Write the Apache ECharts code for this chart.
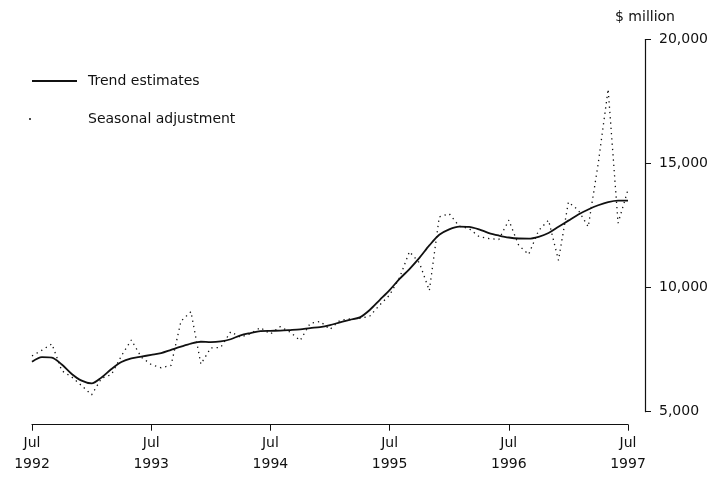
<!DOCTYPE html>
<html>
<head>
<meta charset="utf-8">
<script src="https://cdn.jsdelivr.net/npm/echarts@6/dist/echarts.min.js"></script>
<style>
  html, body { margin: 0; padding: 0; background: #fff; }
  #mychart { width: 717px; height: 477px; }
</style>
</head>
<body>
<div id="mychart"></div>
<script>
// monthly, Jul 1992 .. Jul 1997
const monthNames = ['Jul', 'Aug', 'Sep', 'Oct', 'Nov', 'Dec', 'Jan', 'Feb', 'Mar', 'Apr', 'May', 'Jun'];
const startYear = 1992;
const categories = [];
for (let i = 0; i <= 60; i++) {
    const y = startYear + Math.floor((i + 6) / 12);
    categories.push(monthNames[i % 12] + ' ' + y);
}

const trend = [
    7010, 7200, 7180, 6900, 6520, 6250, 6140, 6380, 6720, 7000,
    7150, 7220, 7290, 7360, 7490, 7620, 7740, 7820, 7800, 7830,
    7920, 8080, 8170, 8245, 8260, 8265, 8290, 8320, 8370, 8410,
    8490, 8600, 8700, 8800, 9100, 9500, 9900, 10350, 10750, 11200,
    11700, 12130, 12350, 12460, 12450, 12350, 12200, 12100, 12020, 11980,
    11975, 12050, 12200, 12450, 12700, 12950, 13150, 13320, 13450, 13510,
    13510
];

const seasonal = [
    7250, 7480, 7730, 6650, 6400, 6050, 5680, 6345, 6500, 7250,
    7890, 7200, 6900, 6770, 6870, 8650, 9030, 6920, 7570, 7590,
    8220, 8000, 8150, 8390, 8130, 8430, 8200, 7870, 8560, 8640,
    8320, 8680, 8740, 8760, 8850, 9300, 9700, 10400, 11450, 11000,
    9880, 12850, 12980, 12480, 12380, 12060, 11980, 11940, 12720, 11700,
    11340, 12300, 12720, 11100, 13450, 13120, 12450, 15000, 18000, 12600,
    13950
];

const yTicks = [5000, 10000, 15000, 20000];

const font = 'DejaVu Sans';
const ink = '#111';

let myChart = echarts.init(document.getElementById('mychart'));

myChart.setOption({
    animation: false,
    backgroundColor: '#fff',
    textStyle: { fontFamily: font, color: ink },
    grid: { left: 32, right: 89, top: 39.5, bottom: 65.3 },
    legend: [
        {
            data: [{ name: 'Trend estimates', icon: 'path://M0,0H45V2H0Z' }],
            left: 27, top: 69,
            itemWidth: 45, itemHeight: 2,
            itemStyle: { color: ink },
            textStyle: { fontFamily: font, fontSize: 14, color: ink, padding: [0, 0, 0, 6] }
        },
        {
            data: [{ name: 'Seasonal adjustment', icon: 'circle' }],
            left: 24, top: 107,
            itemWidth: 2, itemHeight: 2,
            itemStyle: { color: ink },
            textStyle: { fontFamily: font, fontSize: 14, color: ink, padding: [0, 0, 0, 52] }
        }
    ],
    xAxis: {
        type: 'category',
        data: categories,
        boundaryGap: false,
        offset: 13,
        axisLine: { lineStyle: { color: ink, width: 1.2 } },
        axisTick: { interval: 11, length: 6, lineStyle: { color: ink } },
        axisLabel: {
            interval: 11,
            margin: 8,
            fontFamily: font,
            fontSize: 14,
            color: ink,
            lineHeight: 21,
            formatter: v => v.replace(' ', '\n')
        },
        splitLine: { show: false }
    },
    yAxis: {
        type: 'value',
        position: 'right',
        offset: 17,
        min: yTicks[0],
        max: yTicks[yTicks.length - 1],
        interval: 5000,
        name: '$ million',
        nameLocation: 'end',
        nameGap: 15,
        nameTextStyle: { fontFamily: font, fontSize: 14, color: ink, align: 'center' },
        axisLine: { show: true, lineStyle: { color: ink, width: 1.2 } },
        axisTick: { show: true, length: 6, lineStyle: { color: ink } },
        axisLabel: {
            margin: 14,
            fontFamily: font,
            fontSize: 14,
            color: ink,
            formatter: v => v.toLocaleString('en-US')
        },
        splitLine: { show: false }
    },
    series: [
        {
            name: 'Trend estimates',
            type: 'line',
            data: trend,
            symbol: 'none',
            smooth: 0.3,
            lineStyle: { color: ink, width: 1.8 }
        },
        {
            name: 'Seasonal adjustment',
            type: 'line',
            data: seasonal,
            symbol: 'none',
            itemStyle: { color: ink },
            lineStyle: { color: ink, width: 1.3, type: [1.3, 4] }
        }
    ]
});

window.addEventListener('resize', () => {
    myChart.resize();
});
</script>
</body>
</html>
